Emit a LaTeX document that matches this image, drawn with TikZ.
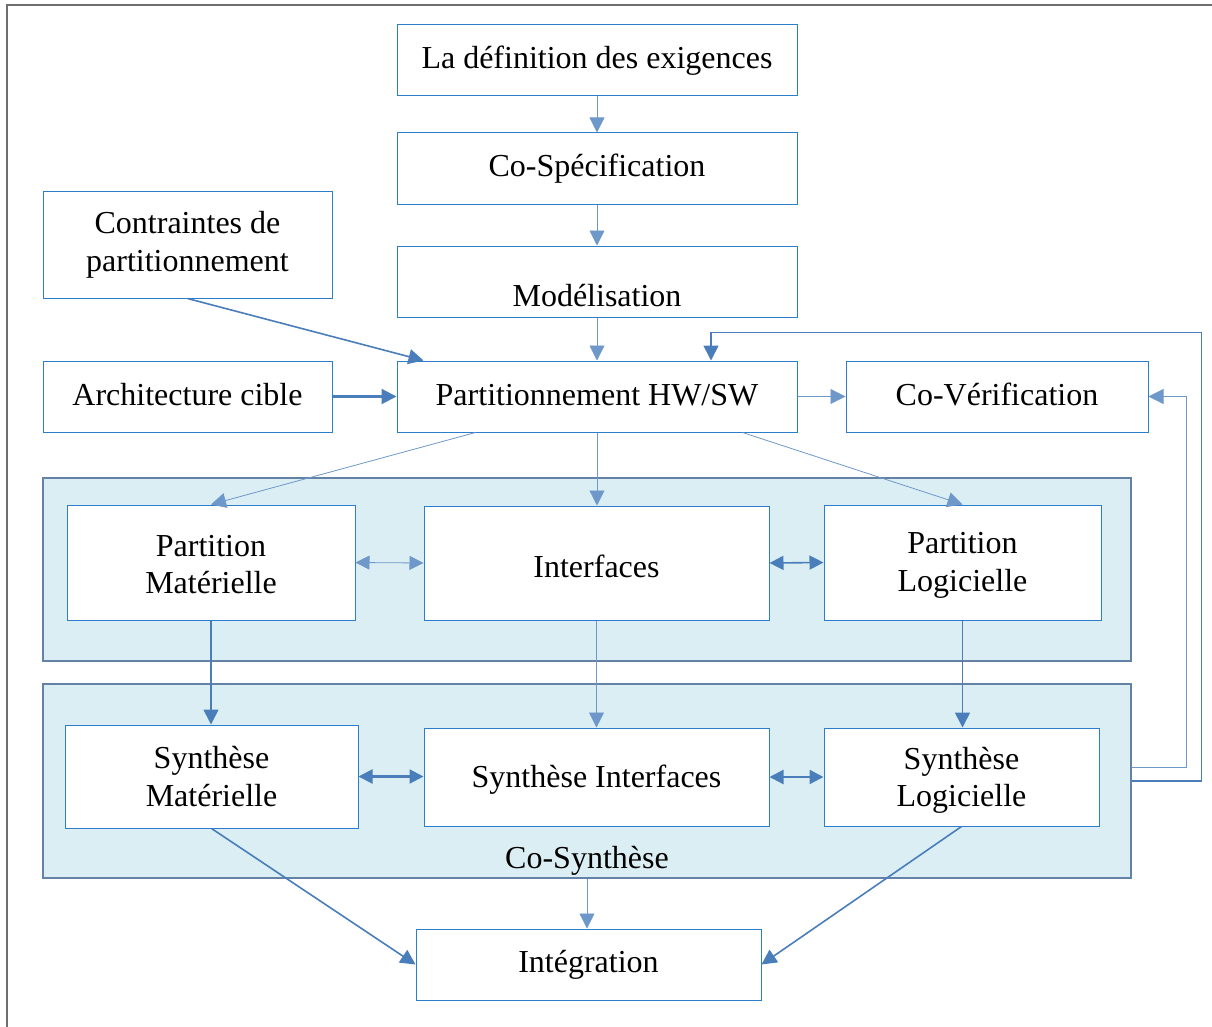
\documentclass[tikz,border=0pt]{standalone}
\usepackage{fontspec}
\setmainfont{Liberation Serif}
\usetikzlibrary{arrows.meta,calc}
\definecolor{boxblue}{RGB}{45,125,205}
\definecolor{arrowblue}{RGB}{74,126,187}
\definecolor{grpfill}{RGB}{218,238,243}
\definecolor{grpline}{RGB}{100,130,165}
\definecolor{framegray}{RGB}{110,110,110}
\newcommand\upstrut[1]{\rule{0pt}{#1}}
\tikzset{
  box/.style={draw=boxblue, line width=1pt, fill=white, align=center, inner sep=0pt,
    font=\fontsize{32}{37.5}\selectfont},
  grp/.style={draw=grpline, line width=1.2pt, fill=grpfill, inner sep=0pt},
  tip/.style={-{Triangle[length=15pt,width=15pt]}},
  dtip/.style={{Triangle[length=14pt,width=14pt]}-{Triangle[length=14pt,width=14pt]}},
  thinc/.style={arrowblue!80, line width=0.8pt},
  medc/.style={arrowblue, line width=1.6pt},
  thickc/.style={arrowblue, line width=2.2pt},
  lbl/.style={font=\fontsize{32}{37.5}\selectfont, inner sep=0pt}
}
\begin{document}
\begin{tikzpicture}[x=1pt,y=-1pt]
\useasboundingbox (0,0) rectangle (1212,1027);
\draw[framegray, line width=1.3pt] (7,1060) -- (7,5) -- (1240,5);

% groups
\node[grp, minimum width=1088pt, minimum height=183pt] (g1) at (587,569.5) {};
\node[grp, minimum width=1088pt, minimum height=194pt] (g2) at (587,781) {};
\node[lbl] (cosyn) at (587,861) {Co-Synthèse};

% boxes
\node[box, minimum width=400pt, minimum height=71pt] (def) at (597,60.5) {La définition des exigences};
\node[box, minimum width=400pt, minimum height=72pt] (cospec) at (597,169) {Co-Spécification};
\node[box, minimum width=400pt, minimum height=71pt,
  label={[lbl, yshift=-14pt]center:Modélisation}] (model) at (597,281.5) {};
\node[box, minimum width=289pt, minimum height=106pt] (contr) at (187.5,245) {Contraintes de\\partitionnement};
\node[box, minimum width=289pt, minimum height=71pt, text depth=4pt] (archi) at (187.5,396.5) {Architecture cible};
\node[box, minimum width=400pt, minimum height=71pt, text depth=4pt] (part) at (597,396.5) {Partitionnement HW/SW};
\node[box, minimum width=302pt, minimum height=71pt, text depth=4pt] (cover) at (997,396.5) {Co-Vérification};
\node[box, minimum width=288pt, minimum height=115pt] (pmat) at (211,562.5) {\upstrut{25pt}Partition\\Matérielle};
\node[box, minimum width=345pt, minimum height=114pt] (intf) at (596.5,563) {\upstrut{30pt}Interfaces};
\node[box, minimum width=277pt, minimum height=115pt] (plog) at (962.5,562.5) {\upstrut{27pt}Partition\\Logicielle};
\node[box, minimum width=293pt, minimum height=103pt] (smat) at (211.5,776.5) {Synthèse\\Matérielle};
\node[box, minimum width=345pt, minimum height=98pt] (sint) at (596.5,777) {\upstrut{27pt}Synthèse Interfaces};
\node[box, minimum width=275pt, minimum height=98pt] (slog) at (961.5,777) {\upstrut{29pt}Synthèse\\Logicielle};
\node[box, minimum width=345pt, minimum height=71pt] (integ) at (588.5,964.5) {Intégration};

% top chain
\draw[thinc, tip] (def.south) -- (cospec.north);
\draw[thinc, tip] (cospec.south) -- (model.north);
\draw[thinc, tip] (model.south) -- (part.north);
\draw[medc, tip] (contr.south) -- ($(part.north west)+(27,0)$);
\draw[thickc, tip] (archi.east) -- (part.west);
\draw[thinc, tip] (part.east) -- (cover.west);

% partition
\draw[thinc, tip] ($(part.south west)+(79,0)$) -- (pmat.north);
\draw[thinc, tip] (part.south) -- (part.south |- intf.north);
\draw[thinc, tip] ($(part.south east)+(-55,0)$) -- (plog.north);
\draw[thinc, dtip] (pmat.east) -- (intf.west);
\draw[medc, dtip] (intf.east) -- (plog.west);

% synthesis
\draw[medc, tip] (pmat.south) -- (pmat.south |- smat.north);
\draw[thinc, tip] (intf.south) -- (intf.south |- sint.north);
\draw[medc, tip] (plog.south) -- (plog.south |- slog.north);
\draw[thickc, dtip] (smat.east) -- (smat.east -| sint.west);
\draw[thickc, dtip] (sint.east) -- (slog.west);

% feedback
\coordinate (fb1) at ($(g2.east)+(0,-14)$);
\draw[thinc, tip] (fb1) -- ++(55,0) |- (cover.east);
\coordinate (fb2) at ($(part.north)+(114,0)$);
\draw[medc, tip] (g2.east) -- ++(70,0) |- ($(fb2)+(0,-28)$) -- (fb2);

% integration
\draw[medc, tip] (smat.south) -- (integ.west);
\draw[medc, tip] (slog.south) -- (integ.east);
\draw[thinc, tip] (g2.south) -- (g2.south |- integ.north);
\end{tikzpicture}
\end{document}
